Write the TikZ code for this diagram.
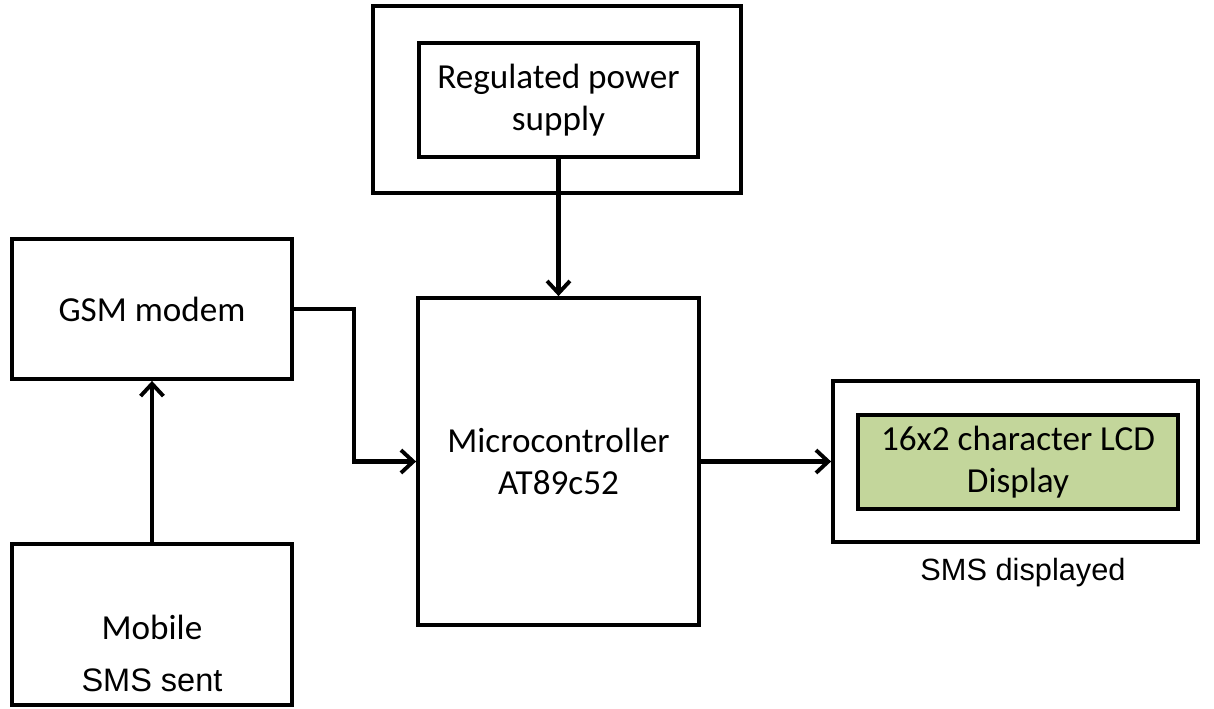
\documentclass[tikz,border=0pt]{standalone}
\usepackage{fontspec}
\setmainfont{Carlito}
\newfontfamily\arialfont{Liberation Sans}
\usetikzlibrary{arrows.meta}
\definecolor{lcdgreen}{RGB}{195,214,155}
\tikzset{
  blk/.style={draw=black, line width=2.2pt, rectangle, inner sep=0pt, align=center,
    font=\fontsize{20}{24}\selectfont},
  lbl/.style={inner sep=0pt, font=\arialfont\fontsize{17.5}{22}\selectfont},
  lblbig/.style={lbl, font=\arialfont\fontsize{18.5}{22}\selectfont},
  arr/.style={line width=2.3pt, -{Straight Barb[length=7pt,width=13pt,line width=2.2pt]}},
}
\begin{document}
\begin{tikzpicture}[x=0.02cm,y=-0.02cm]
\useasboundingbox (0,0) rectangle (1214,708);
\node[blk, minimum width=7.36cm, minimum height=3.74cm] (pwrout) at (557,99.5) {};
\node[blk, minimum width=5.58cm, minimum height=2.28cm] (pwr) at (558.5,100) {Regulated power\\supply};
\node[blk, minimum width=5.6cm, minimum height=2.8cm] (gsm) at (152,309) {GSM modem};
\node[blk, minimum width=5.6cm, minimum height=3.22cm] (mob) at (152,624.5) {};
\node[blk, draw=none] (mobt) at (152,627) {Mobile};
\node[lblbig] (smssent) at (152,680) {SMS sent};
\node[blk, minimum width=5.62cm, minimum height=6.54cm] (mcu) at (558.5,461.5) {Microcontroller\\AT89c52};
\node[blk, minimum width=7.3cm, minimum height=3.22cm] (lcdout) at (1015.5,461.5) {};
\node[blk, fill=lcdgreen, minimum width=6.4cm, minimum height=1.88cm] (lcd) at (1018,462) {16x2 character LCD\\Display};
\node[lbl] (smsdisp) at (1023,573) {SMS displayed};
\coordinate (bend) at (354,309);
\draw[arr] (pwr.south) -- (mcu.north);
\draw[arr] (gsm.east) -- (bend) |- (mcu.west);
\draw[arr] (mob.north) -- (gsm.south);
\draw[arr] (mcu.east) -- (lcdout.west);
\end{tikzpicture}
\end{document}
